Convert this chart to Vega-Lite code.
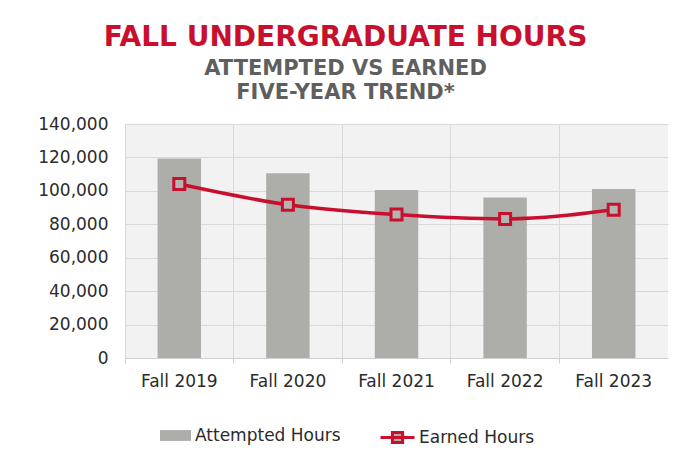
{
  "$schema": "https://vega.github.io/schema/vega-lite/v6.json",
  "width": 543,
  "height": 234,
  "autosize": {"type": "none"},
  "padding": {"left": 125, "top": 124, "right": 5, "bottom": 104},
  "background": "white",
  "title": {
    "text": "FALL UNDERGRADUATE HOURS",
    "subtitle": ["ATTEMPTED VS EARNED", "FIVE-YEAR TREND*"],
    "anchor": "middle",
    "dx": -51,
    "offset": 12,
    "font": "DejaVu Sans",
    "fontSize": 28,
    "fontWeight": "bold",
    "color": "#c8102e",
    "subtitleFont": "DejaVu Sans",
    "subtitleFontSize": 21,
    "subtitleFontWeight": "bold",
    "subtitleColor": "#5f5f5f",
    "subtitleLineHeight": 24,
    "subtitlePadding": 6
  },
  "data": {
    "values": [
      {"term": "Fall 2019", "attempted": 119300, "earned": 104100},
      {"term": "Fall 2020", "attempted": 110500, "earned": 91700},
      {"term": "Fall 2021", "attempted": 100500, "earned": 85800},
      {"term": "Fall 2022", "attempted": 96100, "earned": 83200},
      {"term": "Fall 2023", "attempted": 101100, "earned": 88700}
    ]
  },
  "encoding": {
    "x": {
      "field": "term",
      "type": "nominal",
      "sort": null,
      "scale": {"paddingInner": 0, "paddingOuter": 0},
      "axis": {
        "title": null,
        "labelAngle": 0,
        "bandPosition": 0,
        "tickExtra": true,
        "grid": true,
        "gridColor": "#d9d9d9",
        "tickColor": "#cfcfcf",
        "tickSize": 5,
        "domainColor": "#cfcfcf",
        "labelFont": "DejaVu Sans",
        "labelFontSize": 17,
        "labelColor": "#2b2b2b",
        "labelPadding": 10
      }
    }
  },
  "layer": [
    {
      "mark": {"type": "bar", "width": {"band": 0.4}},
      "encoding": {
        "y": {
          "field": "attempted",
          "type": "quantitative",
          "scale": {"domain": [0, 140000]},
          "axis": {
            "title": null,
            "values": [0, 20000, 40000, 60000, 80000, 100000, 120000, 140000],
            "tickCount": 8,
            "format": ",d",
            "labelOverlap": false
          }
        },
        "fill": {
          "datum": "Attempted Hours",
          "scale": {"range": ["#adaea9"]},
          "legend": {
            "title": null,
            "orient": "none",
            "legendX": 35,
            "legendY": 296,
            "symbolType": "M-1,-0.35H1V0.35H-1Z",
            "symbolSize": 961,
            "symbolStrokeWidth": 0,
            "labelFont": "DejaVu Sans",
            "labelFontSize": 17,
            "labelColor": "#2b2b2b",
            "labelOffset": 4
          }
        }
      }
    },
    {
      "mark": {"type": "line", "interpolate": "monotone", "strokeWidth": 3.5},
      "encoding": {
        "y": {
          "field": "earned",
          "type": "quantitative",
          "axis": {
            "title": null,
            "values": [0, 20000, 40000, 60000, 80000, 100000, 120000, 140000],
            "tickCount": 8,
            "format": ",d",
            "labelOverlap": false
          }
        },
        "stroke": {
          "datum": "Earned Hours",
          "scale": {"range": ["#c8102e"]},
          "legend": {
            "title": null,
            "orient": "none",
            "legendX": 254,
            "legendY": 295,
            "symbolType": "M-1,0H1M-0.3,-0.3H0.3V0.3H-0.3Z",
            "symbolSize": 1156,
            "symbolStrokeWidth": 3,
            "labelFont": "DejaVu Sans",
            "labelFontSize": 17,
            "labelColor": "#2b2b2b",
            "labelOffset": 3,
            "encode": {"symbols": {"update": {"fill": {"value": "#adaea9"}, "stroke": {"value": "#c8102e"}}}}
          }
        }
      }
    },
    {
      "mark": {"type": "point", "shape": "square", "size": 121, "filled": true, "fill": "#b4b5b0", "stroke": "#c8102e", "strokeWidth": 3, "opacity": 1},
      "encoding": {
        "y": {
          "field": "earned",
          "type": "quantitative",
          "axis": {
            "title": null,
            "values": [0, 20000, 40000, 60000, 80000, 100000, 120000, 140000],
            "tickCount": 8,
            "format": ",d",
            "labelOverlap": false
          }
        }
      }
    }
  ],
  "config": {
    "view": {"stroke": null, "fill": "#f2f2f2"},
    "axisY": {
      "labelOverlap": false,
      "domain": false,
      "ticks": false,
      "grid": true,
      "gridColor": "#d9d9d9",
      "labelFont": "DejaVu Sans",
      "labelFontSize": 17,
      "labelColor": "#2b2b2b",
      "labelPadding": 17
    }
  }
}
